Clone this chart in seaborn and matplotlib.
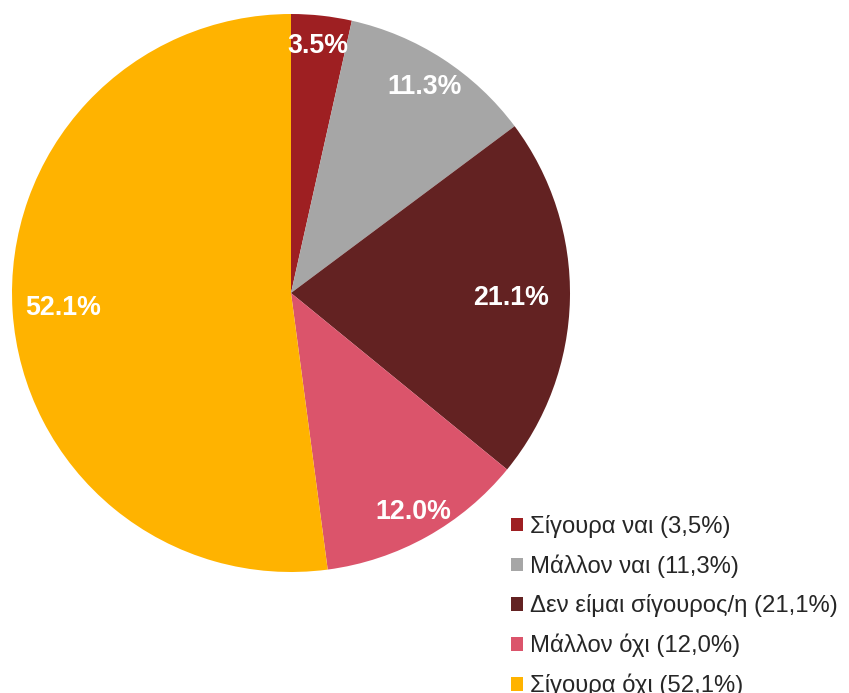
import matplotlib.pyplot as plt
import numpy as np
import seaborn as sns
from matplotlib.patches import Patch

# 数据
categories = ["Σίγουρα ναι", "Μάλλον ναι", "Δεν είμαι σίγουρος/η", "Μάλλον όχι", "Σίγουρα όχι"]
values = [3.5, 11.3, 21.1, 12.0, 52.1]
legend_labels = ["Σίγουρα ναι (3,5%)", "Μάλλον ναι (11,3%)", "Δεν είμαι σίγουρος/η (21,1%)",
                 "Μάλλον όχι (12,0%)", "Σίγουρα όχι (52,1%)"]
colors = sns.color_palette(["#9E1F22", "#A6A6A6", "#632222", "#DB546B", "#FFB300"])

sns.set_theme(style="white")
plt.rcParams['font.family'] = ['Liberation Sans', 'DejaVu Sans']

fig = plt.figure(figsize=(8.49, 6.93), dpi=100)
ax = fig.add_axes([12 / 849, 121 / 693, 558 / 849, 558 / 693])

wedges, texts, autotexts = ax.pie(values, colors=colors, startangle=90, counterclock=False,
                                  autopct='%1.1f%%', pctdistance=0.86,
                                  wedgeprops=dict(linewidth=0, edgecolor='none'),
                                  textprops=dict(color='white', fontsize=19.3, fontweight='bold'))

# 标签位置微调（类似 Excel 的最佳位置）
label_r = [0.89, 0.88, 0.79, 0.90, 0.82]
for w, t, r in zip(wedges, autotexts, label_r):
    ang = np.deg2rad((w.theta1 + w.theta2) / 2)
    t.set_position((r * np.cos(ang), r * np.sin(ang)))

ax.set_xlim(-1, 1)
ax.set_ylim(-1, 1)
ax.set_aspect('equal')
ax.axis('off')

handles = [Patch(facecolor=c, edgecolor='none') for c in colors]
fig.legend(handles, legend_labels, loc='upper left', bbox_to_anchor=(511 / 849, 1 - 515 / 693),
           frameon=False, fontsize=17.2, handlelength=0.5, handleheight=0.5,
           handletextpad=0.3, labelspacing=0.69, borderaxespad=0, borderpad=0)

fig.savefig("out.png", dpi=100)
